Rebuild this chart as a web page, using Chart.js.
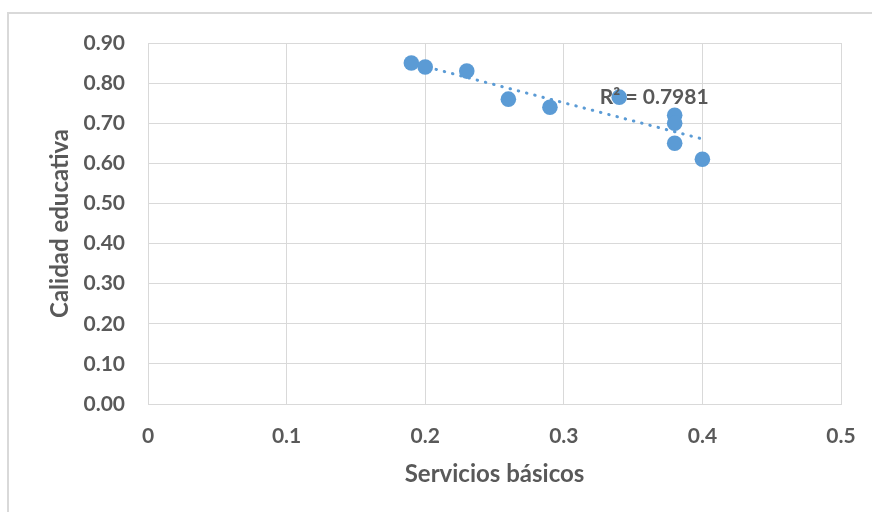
<!DOCTYPE html>
<html lang="es">
<head>
  <meta charset="UTF-8">
  <title>Calidad educativa vs Servicios básicos</title>
  <script src="https://cdn.jsdelivr.net/npm/chart.js"></script>
  <style>
    html, body {
      margin: 0;
      padding: 0;
      background: #fff;
      overflow: hidden;
    }
    .frame {
      position: absolute;
      left: 7px;
      top: 12px;
      width: 880px;
      height: 520px;
      border: 2px solid #d9d9d9;
    }
    .wrap {
      position: absolute;
      left: 0;
      top: 0;
      width: 872px;
      height: 512px;
    }
  </style>
</head>
<body>
  <div class="frame"></div>
  <div class="wrap"><canvas id="chart"></canvas></div>

  <script>
    // values
    const serviciosBasicos = [0.19, 0.20, 0.23, 0.26, 0.29, 0.34, 0.38, 0.38, 0.38, 0.40];
    const calidadEducativa = [0.85, 0.84, 0.83, 0.76, 0.74, 0.765, 0.72, 0.70, 0.65, 0.61];
    const r2Label = 'R² = 0.7981';
    const xTickStep = 0.1, xMax = 0.5;
    const yTickStep = 0.1, yMax = 0.9;

    const grey = '#595959';
    const blue = '#5b9bd5';
    const gridColor = '#d9d9d9';
    const fontFamily = 'Lato, sans-serif';

    const points = serviciosBasicos.map((x, i) => ({ x, y: calidadEducativa[i] }));

    // least squares trendline across the range of the data
    function trend(xs, ys) {
      const n = xs.length;
      const mx = xs.reduce((a, b) => a + b, 0) / n;
      const my = ys.reduce((a, b) => a + b, 0) / n;
      let sxy = 0, sxx = 0;
      xs.forEach((x, i) => { sxy += (x - mx) * (ys[i] - my); sxx += (x - mx) * (x - mx); });
      const slope = sxy / sxx;
      const x0 = Math.min(...xs), x1 = Math.max(...xs);
      return [
        { x: x0, y: my + slope * (x0 - mx) },
        { x: x1, y: my + slope * (x1 - mx) }
      ];
    }

    // R² text next to the trendline, placed in data units
    const r2Plugin = {
      id: 'r2Label',
      afterDatasetsDraw(chart) {
        const { ctx, scales } = chart;
        ctx.save();
        ctx.font = 'bold 21px ' + fontFamily;
        ctx.fillStyle = grey;
        ctx.textAlign = 'left';
        ctx.textBaseline = 'middle';
        ctx.fillText(r2Label, scales.x.getPixelForValue(0.326), scales.y.getPixelForValue(0.765));
        ctx.restore();
      }
    };

    new Chart(document.getElementById('chart'), {
      type: 'scatter',
      data: {
        datasets: [
          {
            label: 'Calidad educativa',
            data: points,
            backgroundColor: blue,
            borderWidth: 0,
            pointRadius: 7.8,
            pointHoverRadius: 7.8,
            order: 1
          },
          {
            label: 'Tendencia',
            data: trend(serviciosBasicos, calidadEducativa),
            showLine: true,
            borderColor: blue,
            borderWidth: 3,
            borderDash: [0.5, 8],
            borderCapStyle: 'round',
            pointRadius: 0,
            fill: false,
            order: 2
          }
        ]
      },
      options: {
        responsive: true,
        maintainAspectRatio: false,
        animation: false,
        layout: { padding: { top: 43, right: 31, left: 0, bottom: 0 } },
        plugins: {
          legend: { display: false },
          tooltip: { enabled: false }
        },
        scales: {
          x: {
            type: 'linear',
            min: 0,
            max: xMax,
            afterFit(scale) {
              scale.height = 108;
              scale.paddingLeft = 0;
              scale.paddingRight = 0;
            },
            grid: { color: gridColor, lineWidth: 1, drawTicks: false },
            border: { color: gridColor },
            ticks: {
              stepSize: xTickStep,
              padding: 20,
              color: grey,
              font: { family: fontFamily, size: 21, weight: 'bold' },
              callback: v => v === 0 ? '0' : v.toFixed(1)
            },
            title: {
              display: true,
              text: 'Servicios básicos',
              color: grey,
              font: { family: fontFamily, size: 24, weight: 'bold' },
              padding: { bottom: 23, top: 0 }
            }
          },
          y: {
            type: 'linear',
            min: 0,
            max: yMax,
            afterFit(scale) {
              scale.width = 148;
              scale.paddingTop = 0;
              scale.paddingBottom = 0;
            },
            grid: { color: gridColor, lineWidth: 1, drawTicks: false },
            border: { color: gridColor },
            ticks: {
              stepSize: yTickStep,
              padding: 23,
              color: grey,
              font: { family: fontFamily, size: 21, weight: 'bold' },
              callback: v => v.toFixed(2)
            },
            title: {
              display: true,
              text: 'Calidad educativa',
              color: grey,
              font: { family: fontFamily, size: 24, weight: 'bold' },
              padding: { top: 46, bottom: 0 }
            }
          }
        }
      },
      plugins: [r2Plugin]
    });
  </script>
</body>
</html>
